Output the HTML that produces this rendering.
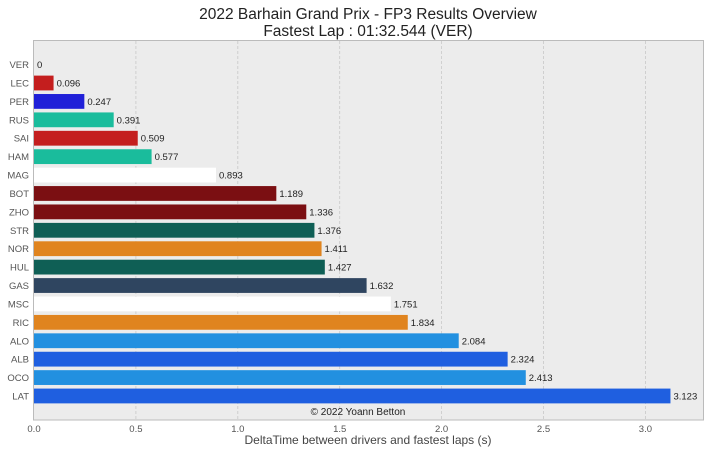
<!DOCTYPE html>
<html><head><meta charset="utf-8"><style>
body{margin:0;background:#fff;font-family:"Liberation Sans",sans-serif;}
svg{display:block}
</style></head><body>
<svg width="710" height="454" id="c">
<text x="368" y="19" font-size="15.5" text-anchor="middle" fill="#222">2022 Barhain Grand Prix - FP3 Results Overview</text>
<text x="368" y="36" font-size="15.5" text-anchor="middle" fill="#222">Fastest Lap : 01:32.544 (VER)</text>
<rect x="33.5" y="40.5" width="670" height="379.5" fill="#ececec" stroke="#bbb"/>
<g id="grid"></g><g id="bars"></g><g id="ticks"></g>
<text x="358" y="415" font-size="10" text-anchor="middle" fill="#222">© 2022 Yoann Betton</text>
<text x="368" y="444" font-size="12" text-anchor="middle" fill="#444">DeltaTime between drivers and fastest laps (s)</text>
</svg>
<script>
const drivers=["VER","LEC","PER","RUS","SAI","HAM","MAG","BOT","ZHO","STR","NOR","HUL","GAS","MSC","RIC","ALO","ALB","OCO","LAT"];
const deltas=[0,0.096,0.247,0.391,0.509,0.577,0.893,1.189,1.336,1.376,1.411,1.427,1.632,1.751,1.834,2.084,2.324,2.413,3.123];
const colors=["#1e41ff","#c41e1e","#2020d8","#1abc9c","#c41e1e","#1abc9c","#ffffff","#7b0f12","#7b0f12","#0f5f55","#e0841f","#0f5f55","#2f4560","#ffffff","#e0841f","#2290e0","#1f5fe0","#2290e0","#1f5fe0"];
const xticks=[0,0.5,1,1.5,2,2.5,3];
const ns="http://www.w3.org/2000/svg";
const X=v=>34+v*203.8;
const Y=i=>64.6+i*18.41;
function mk(t,a,p){const e=document.createElementNS(ns,t);for(const k in a)e.setAttribute(k,a[k]);p.appendChild(e);return e;}
const g=document.getElementById('grid'),b=document.getElementById('bars'),tk=document.getElementById('ticks');
xticks.forEach(v=>{
 if(v>0){const l=mk('line',{x1:X(v),x2:X(v),y1:41,y2:420,stroke:'#c8c8c8','stroke-dasharray':'3,2','stroke-width':0.8},g);
 
 }
 const t=mk('text',{x:X(v),y:432,'font-size':9.5,'text-anchor':'middle',fill:'#555'},tk);t.textContent=v.toFixed(1);
 
 
});
drivers.forEach((d,i)=>{
 const y=Y(i);
 const r=mk('rect',{x:X(0),y:y-7.4,width:Math.max(0,X(deltas[i])-X(0)),height:14.8,fill:colors[i]},b);
 
 
 const v=mk('text',{x:X(deltas[i])+3,y:y+3.5,'font-size':9.5,fill:'#222'},b);v.textContent=String(deltas[i]);
 
 
 const t=mk('text',{x:29,y:y+3.5,'font-size':9.5,'text-anchor':'end',fill:'#555'},tk);t.textContent=d;
 
 
});
</script>
</body></html>
